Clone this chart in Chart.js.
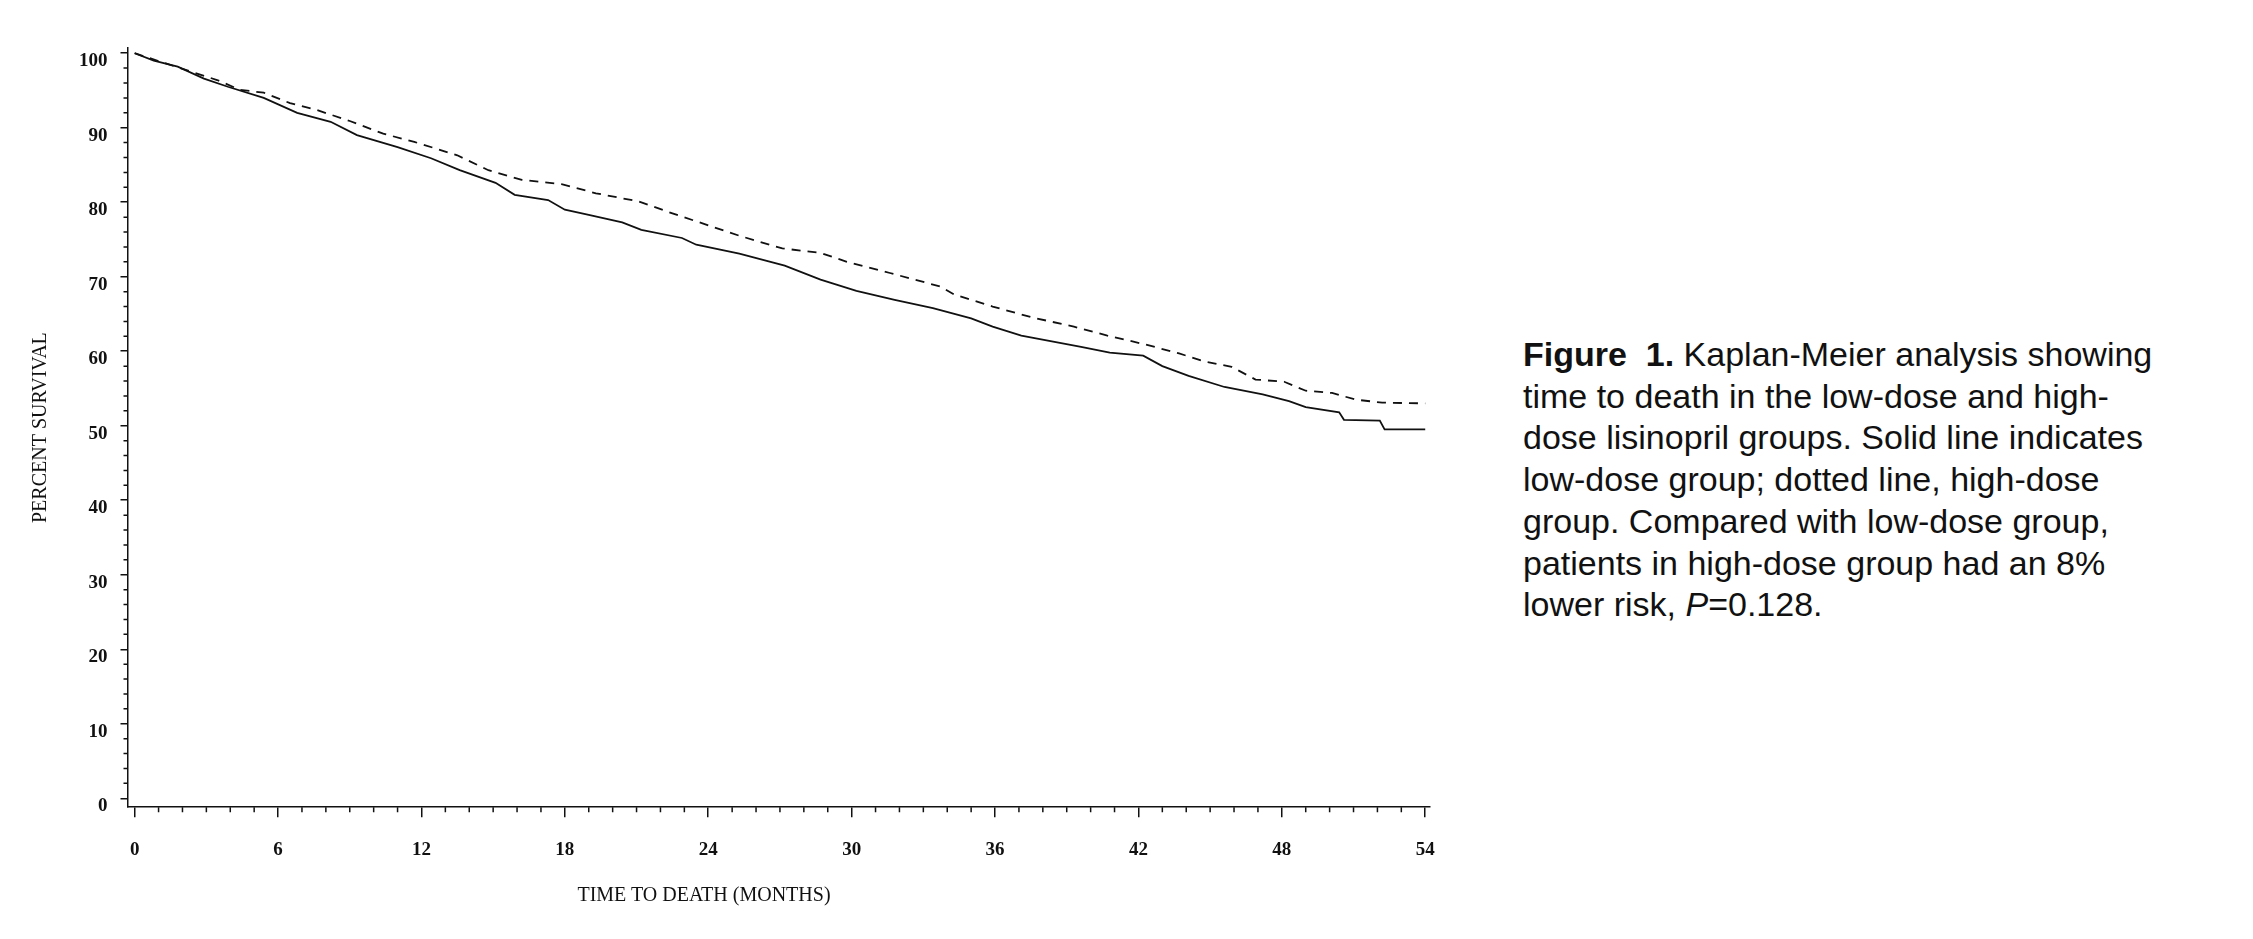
<!DOCTYPE html>
<html>
<head>
<meta charset="utf-8">
<script src="https://cdn.jsdelivr.net/npm/chart.js@4.4.0/dist/chart.umd.min.js"></script>
<style>
  body { margin: 0; background: #fff; width: 2253px; height: 939px; overflow: hidden; position: relative; }
  #wrap { position: absolute; left: 0; top: 0; width: 1460px; height: 939px; }
  #xtitle {
    position: absolute; left: 504px; width: 400px; top: 882px; text-align: center;
    font-family: "Liberation Serif", "Times New Roman", serif; font-size: 20px; line-height: 24px; color: #111;
  }
  #caption {
    position: absolute; left: 1523px; top: 334px;
    font-family: "Liberation Sans", Arial, sans-serif; font-size: 34px; line-height: 41.7px;
    color: #111; white-space: nowrap;
  }
</style>
</head>
<body>
<div id="wrap"><canvas id="km"></canvas></div>
<div id="xtitle">TIME TO DEATH (MONTHS)</div>
<div id="caption"><b>Figure&nbsp; 1.</b> Kaplan-Meier analysis showing<br>time to death in the low-dose and high-<br>dose lisinopril groups. Solid line indicates<br>low-dose group; dotted line, high-dose<br>group. Compared with low-dose group,<br>patients in high-dose group had an 8%<br>lower risk, <i>P</i>=0.128.</div>
<script>
// low-dose group (solid line)
const lowMonths = [0, 0.8, 1.8, 2.9, 3.9, 5.4, 6.8, 8.2, 9.3, 11.0, 12.4, 13.6, 15.1, 15.9, 17.3, 18.0, 19.0, 20.4,
  21.2, 22.9, 23.5, 25.3, 27.2, 28.7, 30.2, 31.8, 33.4, 35.0, 35.9, 37.1, 39.6, 40.8, 42.2, 43.0, 44.1, 45.6,
  47.2, 48.3, 49.0, 50.4, 50.6, 52.1, 52.3, 54.0];
const lowSurvival = [100, 99.0, 98.2, 96.6, 95.5, 94.0, 92.0, 90.8, 89.0, 87.4, 85.9, 84.3, 82.6, 81.0, 80.3, 79.0, 78.3, 77.3,
  76.3, 75.2, 74.3, 73.1, 71.5, 69.6, 68.1, 66.9, 65.8, 64.4, 63.3, 62.1, 60.6, 59.8, 59.4, 58.0, 56.7, 55.2,
  54.2, 53.3, 52.5, 51.8, 50.8, 50.7, 49.5, 49.5];

// high-dose group (dotted line)
const highMonths = [0, 1.9, 3.45, 4.4, 5.4, 6.5, 7.6, 9.0, 10.4, 11.7, 13.5, 14.8, 16.2, 17.9, 19.3, 21.1, 22.5, 24.0,
  25.3, 27.1, 28.7, 29.8, 31.6, 33.7, 34.3, 35.9, 37.6, 39.3, 40.7, 42.3, 43.7, 44.8, 45.9, 46.9, 48.1, 49.0,
  50.1, 51.1, 52.2, 54.0];
const highSurvival = [100, 98.0, 96.4, 95.1, 94.7, 93.3, 92.4, 90.9, 89.2, 88.1, 86.3, 84.3, 83.0, 82.4, 81.2, 80.1, 78.5, 76.9,
  75.5, 73.8, 73.2, 72.0, 70.5, 68.7, 67.6, 66.0, 64.5, 63.3, 62.1, 60.9, 59.7, 58.6, 57.9, 56.2, 55.9, 54.7,
  54.4, 53.5, 53.1, 53.0];

const xTicks = [0, 6, 12, 18, 24, 30, 36, 42, 48, 54];
const yTicks = [0, 10, 20, 30, 40, 50, 60, 70, 80, 90, 100];

const ink = "#111";
const tickFont = { family: "'Liberation Serif', 'Times New Roman', serif", size: 19, weight: "bold" };
const titleFont = { family: "'Liberation Serif', 'Times New Roman', serif", size: 20 };

/* small ticks between the labelled ones */
const minorTicks = {
  id: "minorTicks",
  afterDraw(chart) {
    const { ctx, chartArea, scales } = chart;
    ctx.save();
    ctx.strokeStyle = ink;
    ctx.lineWidth = 1.5;
    ctx.beginPath();
    for (let m = 0; m <= 54; m++) {
      if (m % 6 === 0) continue;
      const px = scales.x.getPixelForValue(m);
      ctx.moveTo(px, chartArea.bottom);
      ctx.lineTo(px, chartArea.bottom + 5);
    }
    for (let v = 0; v <= 100; v += 2) {
      if (v % 10 === 0) continue;
      const py = scales.y.getPixelForValue(v);
      ctx.moveTo(chartArea.left - 4, py);
      ctx.lineTo(chartArea.left, py);
    }
    ctx.stroke();
    ctx.restore();
  },
};

const pts = (xs, ys) => xs.map((m, i) => ({ x: m, y: ys[i] }));

new Chart(document.getElementById("km"), {
  type: "line",
  data: {
    datasets: [
      {
        label: "Low dose",
        data: pts(lowMonths, lowSurvival),
        borderColor: ink,
        borderWidth: 1.8,
        pointRadius: 0,
        tension: 0,
      },
      {
        label: "High dose",
        data: pts(highMonths, highSurvival),
        borderColor: ink,
        borderWidth: 1.8,
        borderDash: [9, 7],
        pointRadius: 0,
        tension: 0,
      },
    ],
  },
  options: {
    responsive: true,
    maintainAspectRatio: false,
    animation: false,
    devicePixelRatio: 1,
    layout: { padding: { left: 25, top: 48, right: 30, bottom: 57 } },
    plugins: { legend: { display: false }, tooltip: { enabled: false } },
    scales: {
      x: {
        type: "linear",
        min: -0.3,
        max: 54.2,
        afterBuildTicks: (s) => { s.ticks = xTicks.map((v) => ({ value: v })); },
        ticks: { color: ink, font: tickFont, padding: 21, maxRotation: 0 },
        grid: { drawOnChartArea: false, tickLength: 10, color: ink, lineWidth: 1.5 },
        border: { color: ink, width: 1.5 },
      },
      y: {
        min: -1.2,
        max: 100.7,
        afterBuildTicks: (s) => { s.ticks = yTicks.map((v) => ({ value: v })); },
        ticks: { color: ink, font: tickFont, padding: 13, labelOffset: 8 },
        grid: { drawOnChartArea: false, tickLength: 7, color: ink, lineWidth: 1.5 },
        border: { color: ink, width: 1.5 },
        title: { display: true, text: "PERCENT SURVIVAL", color: ink, font: titleFont, padding: { top: 4, bottom: 13 } },
      },
    },
  },
  plugins: [minorTicks],
});
</script>
</body>
</html>
